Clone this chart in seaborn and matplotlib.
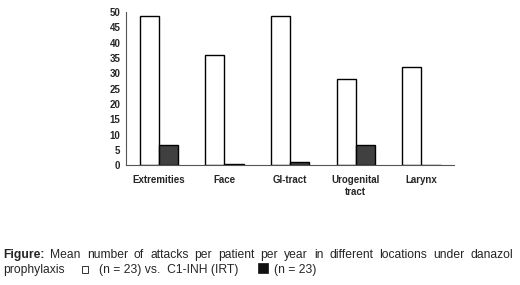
import matplotlib
matplotlib.use("Agg")
import matplotlib.pyplot as plt
import seaborn as sns
import pandas as pd
from matplotlib.patches import Rectangle

categories = ["Extremities", "Face", "GI-tract", "Urogenital\ntract", "Larynx"]
danazol = [48.8, 36.0, 48.8, 28.1, 32.0]
c1inh = [6.7, 0.5, 1.2, 6.7, 0.0]
series = ["danazol", "C1-INH"]
yticks = list(range(0, 51, 5))

df = pd.DataFrame({
    "cat": categories * 2,
    "val": danazol + c1inh,
    "grp": [series[0]] * len(categories) + [series[1]] * len(categories),
})

sns.set_style("white")
plt.rcParams["font.family"] = ["Liberation Sans", "DejaVu Sans"]

W, H = 520, 285
fig = plt.figure(figsize=(W / 100, H / 100), dpi=100)
ax = fig.add_axes([126 / W, 1 - 165.3 / H, (454.3 - 126) / W, (165.3 - 12) / H])

sns.barplot(data=df, x="cat", y="val", hue="grp", order=categories, hue_order=series,
            palette=["white", "#404040"], width=0.58, edgecolor="black", linewidth=1.0,
            ax=ax, legend=False, saturation=1)

ax.set_xlim(-0.5, 4.5)
ax.set_ylim(0, 50)
ax.set_xlabel("")
ax.set_ylabel("")
ax.set_yticks(yticks)
ax.set_yticklabels([str(v) for v in yticks], fontsize=7, fontweight="bold")
ax.set_xticks(range(len(categories)))
ax.set_xticklabels(categories, fontsize=7, fontweight="bold")
ax.tick_params(axis="x", which="major", length=0, pad=7)
ax.set_xticks([i + 0.5 for i in range(-1, len(categories))], minor=True)
ax.tick_params(axis="x", which="minor", length=3, width=0.8, direction="out", color="#555555")
ax.tick_params(axis="y", length=3, width=0.8, direction="out", pad=1, color="#555555")
for s in ["top", "right"]:
    ax.spines[s].set_visible(False)
for s in ["left", "bottom"]:
    ax.spines[s].set_color("#555555")
    ax.spines[s].set_linewidth(0.8)

# caption
fs = 8.7
fig.canvas.draw()
r = fig.canvas.get_renderer()
words = ["Figure:", "Mean", "number", "of", "attacks", "per", "patient", "per", "year", "in",
         "different", "locations", "under", "danazol"]
y1 = 1 - 257.7 / H
y2 = 1 - 272.7 / H
tmp = []
widths = []
for i, w in enumerate(words):
    t = fig.text(0, y1, w, fontsize=fs, fontweight="bold" if i == 0 else "normal", va="baseline")
    tmp.append(t)
    widths.append(t.get_window_extent(r).width)
x0, x1 = 3, 513
gap = (x1 - x0 - sum(widths)) / (len(words) - 1)
x = x0
for t, wd in zip(tmp, widths):
    t.set_x(x / W)
    x += wd + gap

fig.text(3 / W, y2, "prophylaxis", fontsize=fs, va="baseline")
fig.patches.append(Rectangle((81.5 / W, 1 - 272.5 / H), 6.5 / W, 6.5 / H, transform=fig.transFigure,
                             facecolor="white", edgecolor="#333333", linewidth=0.7))
fig.text(99.3 / W, y2, "(n = 23) vs.  C1-INH (IRT)", fontsize=fs, va="baseline")
fig.patches.append(Rectangle((258.3 / W, 1 - 272.7 / H), 10 / W, 9.5 / H, transform=fig.transFigure,
                             facecolor="#111111", edgecolor="#111111", linewidth=0.5))
fig.text(274 / W, y2, "(n = 23)", fontsize=fs, va="baseline")

fig.savefig("out.png", dpi=100)
